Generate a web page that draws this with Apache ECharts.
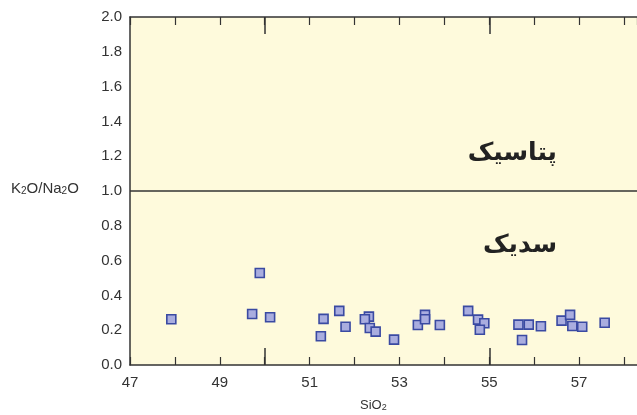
<!DOCTYPE html>
<html>
<head>
<meta charset="utf-8">
<script src="https://cdn.jsdelivr.net/npm/echarts@6/dist/echarts.min.js"></script>
<style>html,body{margin:0;padding:0;background:#fff}#c{width:637px;height:415px}</style>
</head>
<body>
<div id="c"></div>
<script>
const sio2 = [47.92,49.89,49.72,50.12,51.31,51.25,51.66,51.80,52.32,52.23,52.34,52.47,52.88,53.41,53.57,53.57,53.90,54.53,54.75,54.89,54.79,55.65,55.73,55.88,56.15,56.61,56.80,56.85,57.07,57.57];
const ratio = [0.263,0.529,0.293,0.274,0.265,0.165,0.311,0.220,0.278,0.263,0.213,0.192,0.146,0.230,0.288,0.263,0.230,0.311,0.261,0.240,0.203,0.232,0.144,0.232,0.223,0.255,0.288,0.224,0.220,0.243];
const xMajorTicks = [50, 55];
const divideLine = 1.0;
const labelPotassic = 'پتاسیک';
const labelSodic = 'سدیک';

const points = sio2.map((x, i) => [x, ratio[i]]);
const chart = echarts.init(document.getElementById('c'));
const lineCol = '#333';
const baseX = {
  min: 47, max: 58.29, interval: 1, gridIndex: 0,
  axisLine: {show: true, lineStyle: {color: lineCol, width: 1.5}},
  splitLine: {show: false}
};
chart.setOption({
  animation: false,
  grid: {left: 130, top: 17, right: 0, bottom: 50, show: true, backgroundColor: '#fefadc', borderWidth: 0},
  xAxis: [
    Object.assign({}, baseX, {
      position: 'bottom',
      axisTick: {show: true, inside: true, length: 8, lineStyle: {color: lineCol, width: 1.2}},
      axisLabel: {
        show: true, color: '#333', fontSize: 15, fontFamily: 'Liberation Sans, Arial', margin: 10,
        showMaxLabel: false,
        formatter: v => (Math.round(v) % 2 === 1 ? String(Math.round(v)) : '')
      }
    }),
    Object.assign({}, baseX, {
      position: 'bottom',
      axisLine: {show: false},
      axisTick: {show: true, inside: true, length: 17, customValues: xMajorTicks, lineStyle: {color: lineCol, width: 1.5}},
      axisLabel: {show: false}
    }),
    Object.assign({}, baseX, {
      position: 'top',
      axisTick: {show: true, inside: true, length: 8, lineStyle: {color: lineCol, width: 1.2}},
      axisLabel: {show: false}
    }),
    Object.assign({}, baseX, {
      position: 'top',
      axisLine: {show: false},
      axisTick: {show: true, inside: true, length: 17, customValues: xMajorTicks, lineStyle: {color: lineCol, width: 1.5}},
      axisLabel: {show: false}
    })
  ],
  yAxis: {
    min: 0, max: 2, interval: 0.2,
    axisLine: {show: true, lineStyle: {color: lineCol, width: 1.5}},
    axisTick: {show: false},
    splitLine: {show: false},
    axisLabel: {color: '#333', fontSize: 15, fontFamily: 'Liberation Sans, Arial', margin: 8, formatter: v => v.toFixed(1)}
  },
  series: [{
    type: 'scatter',
    data: points,
    symbol: 'rect',
    symbolSize: 9,
    itemStyle: {color: '#a9addf', borderColor: '#3a4aa2', borderWidth: 1.6, opacity: 1},
    markLine: {
      silent: true, symbol: 'none', label: {show: false},
      lineStyle: {color: lineCol, width: 1.5, type: 'solid'},
      data: [{yAxis: divideLine}]
    },
    z: 5
  }],
  graphic: [
    {type: 'text', left: 11, top: 181, style: {
      text: '{n|K}{s|2}{n|O/Na}{s|2}{n|O}',
      rich: {
        n: {fontSize: 15, fontFamily: 'Liberation Sans, Arial', fill: '#333', verticalAlign: 'bottom', lineHeight: 18},
        s: {fontSize: 10, fontFamily: 'Liberation Sans, Arial', fill: '#333', verticalAlign: 'bottom', lineHeight: 15}
      }
    }},
    {type: 'text', left: 360, top: 399, style: {
      text: '{n|SiO}{s|2}',
      rich: {
        n: {fontSize: 13, fontFamily: 'Liberation Sans, Arial', fill: '#333', verticalAlign: 'bottom', lineHeight: 16},
        s: {fontSize: 9, fontFamily: 'Liberation Sans, Arial', fill: '#333', verticalAlign: 'bottom', lineHeight: 14}
      }
    }},
    {type: 'text', x: 557, y: 153, style: {
      text: labelPotassic, fontSize: 25, fontWeight: 'bold', fontFamily: 'DejaVu Sans',
      fill: '#222', textAlign: 'right', textVerticalAlign: 'middle'
    }},
    {type: 'text', x: 557, y: 245, style: {
      text: labelSodic, fontSize: 25, fontWeight: 'bold', fontFamily: 'DejaVu Sans',
      fill: '#222', textAlign: 'right', textVerticalAlign: 'middle'
    }}
  ]
});
</script>
</body>
</html>
